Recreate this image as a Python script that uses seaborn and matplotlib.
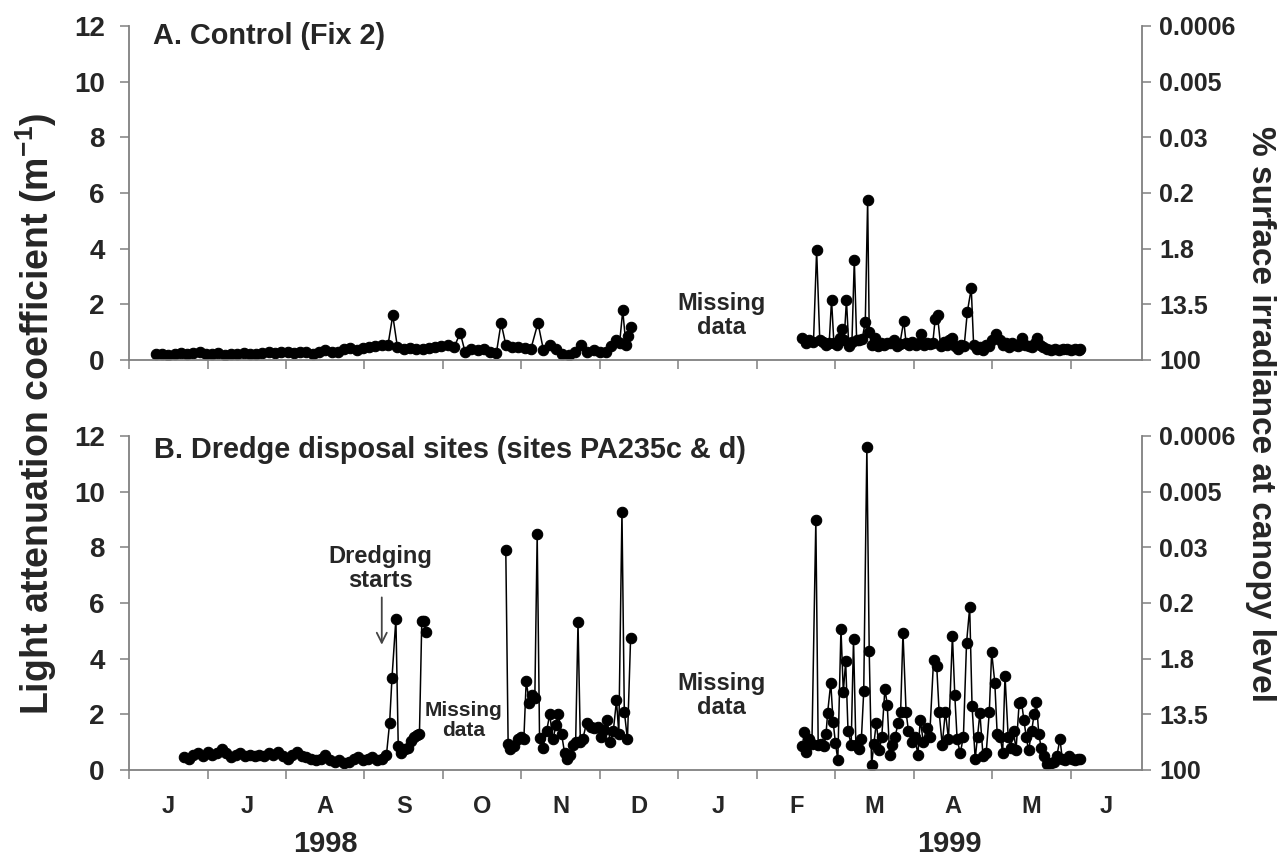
import matplotlib
matplotlib.use('Agg')
import matplotlib.pyplot as plt
import matplotlib.transforms as mtransforms
import seaborn as sns

# x is measured in months from 1 June 1998 (0 = start of June 1998)
MONTH_TICKS = [0, 1, 2, 3, 4, 5, 6, 7, 8, 9, 10, 11, 12]
MONTH_LABEL_POS = [0.5, 1.5, 2.5, 3.5, 4.5, 5.5, 6.5, 7.5, 8.5, 9.5, 10.5, 11.5, 12.45]
MONTH_LABELS = ['J', 'J', 'A', 'S', 'O', 'N', 'D', 'J', 'F', 'M', 'A', 'M', 'J']
YEAR_POS = [2.5, 10.45]
YEAR_LABELS = ['1998', '1999']
KD_TICKS = [0, 2, 4, 6, 8, 10, 12]
IRRADIANCE_LABELS = ['100', '13.5', '1.8', '0.2', '0.03', '0.005', '0.0006']

# A. Control (Fix 2), (month, Kd)
control_1998 = [
    (0.34, 0.20), (0.42, 0.22), (0.50, 0.18), (0.58, 0.22), (0.66, 0.25), (0.74, 0.20),
    (0.82, 0.24), (0.90, 0.28), (0.98, 0.22), (1.06, 0.20), (1.14, 0.25), (1.22, 0.18),
    (1.30, 0.22), (1.38, 0.20), (1.46, 0.24), (1.54, 0.22), (1.62, 0.20), (1.70, 0.26),
    (1.78, 0.28), (1.86, 0.25), (1.94, 0.30), (2.02, 0.28), (2.10, 0.24), (2.18, 0.30),
    (2.26, 0.27), (2.34, 0.22), (2.42, 0.28), (2.50, 0.34), (2.58, 0.30), (2.66, 0.27),
    (2.74, 0.38), (2.82, 0.42), (2.90, 0.36), (2.98, 0.42), (3.06, 0.45), (3.14, 0.50),
    (3.22, 0.52), (3.30, 0.55), (3.36, 1.60), (3.42, 0.45), (3.50, 0.38), (3.58, 0.42),
    (3.66, 0.40), (3.74, 0.38), (3.82, 0.42), (3.90, 0.45), (3.98, 0.50), (4.06, 0.52),
    (4.14, 0.45), (4.22, 0.97), (4.28, 0.30), (4.36, 0.38), (4.44, 0.35), (4.52, 0.40),
    (4.60, 0.30), (4.68, 0.25), (4.74, 1.33), (4.80, 0.55), (4.88, 0.48), (4.96, 0.45),
    (5.04, 0.42), (5.12, 0.40), (5.21, 1.33), (5.28, 0.35), (5.36, 0.55), (5.44, 0.40),
    (5.52, 0.22), (5.60, 0.18), (5.68, 0.30), (5.76, 0.55), (5.84, 0.30), (5.92, 0.35),
    (6.00, 0.30), (6.08, 0.28), (6.14, 0.50), (6.20, 0.70), (6.25, 0.60), (6.29, 1.78),
    (6.33, 0.55), (6.36, 0.85), (6.39, 1.19),
]
control_1999 = [
    (8.58, 0.78), (8.62, 0.60), (8.66, 0.70), (8.72, 0.65), (8.76, 3.94), (8.80, 0.72),
    (8.84, 0.65), (8.88, 0.55), (8.92, 0.60), (8.95, 2.17), (8.98, 0.60), (9.02, 0.55),
    (9.06, 0.80), (9.08, 1.13), (9.11, 0.70), (9.14, 2.15), (9.17, 0.50), (9.21, 0.65),
    (9.24, 3.60), (9.27, 0.70), (9.30, 0.72), (9.34, 0.75), (9.38, 1.37), (9.41, 5.75),
    (9.43, 1.00), (9.46, 0.55), (9.50, 0.80), (9.54, 0.50), (9.58, 0.60), (9.62, 0.55),
    (9.66, 0.62), (9.70, 0.60), (9.74, 0.70), (9.78, 0.50), (9.82, 0.58), (9.87, 1.40),
    (9.90, 0.60), (9.94, 0.55), (9.98, 0.65), (10.02, 0.55), (10.06, 0.62), (10.09, 0.95),
    (10.13, 0.55), (10.17, 0.60), (10.21, 0.58), (10.24, 0.62), (10.27, 1.46), (10.30, 1.60),
    (10.34, 0.50), (10.38, 0.65), (10.42, 0.55), (10.45, 0.70), (10.48, 0.80), (10.52, 0.50),
    (10.56, 0.40), (10.60, 0.55), (10.64, 0.50), (10.68, 1.73), (10.73, 2.57), (10.76, 0.55),
    (10.80, 0.40), (10.84, 0.45), (10.88, 0.35), (10.92, 0.55), (10.96, 0.50), (11.00, 0.70),
    (11.05, 0.95), (11.09, 0.70), (11.13, 0.55), (11.17, 0.60), (11.21, 0.45), (11.25, 0.62),
    (11.29, 0.55), (11.33, 0.50), (11.38, 0.80), (11.42, 0.55), (11.46, 0.50), (11.50, 0.45),
    (11.54, 0.62), (11.57, 0.80), (11.61, 0.55), (11.65, 0.45), (11.70, 0.40), (11.75, 0.35),
    (11.80, 0.38), (11.85, 0.35), (11.90, 0.40), (11.95, 0.38), (12.00, 0.35), (12.05, 0.38),
    (12.10, 0.35), (12.12, 0.38),
]

# B. Dredge disposal sites (PA235c & d)
dredge_summer_1998 = [
    (0.70, 0.45), (0.76, 0.40), (0.82, 0.55), (0.88, 0.60), (0.94, 0.50), (1.00, 0.65),
    (1.06, 0.55), (1.12, 0.60), (1.18, 0.75), (1.24, 0.60), (1.30, 0.45), (1.36, 0.55),
    (1.42, 0.60), (1.48, 0.50), (1.54, 0.55), (1.60, 0.50), (1.66, 0.55), (1.72, 0.50),
    (1.78, 0.60), (1.84, 0.55), (1.90, 0.65), (1.96, 0.50), (2.02, 0.40), (2.08, 0.55),
    (2.14, 0.65), (2.20, 0.50), (2.26, 0.45), (2.32, 0.40), (2.38, 0.35), (2.44, 0.40),
    (2.50, 0.55), (2.56, 0.35), (2.62, 0.30), (2.68, 0.35), (2.74, 0.25), (2.80, 0.30),
    (2.86, 0.40), (2.92, 0.45), (2.98, 0.35), (3.04, 0.40), (3.10, 0.45), (3.16, 0.35),
    (3.22, 0.40), (3.28, 0.55), (3.32, 1.69), (3.35, 3.30), (3.40, 5.43), (3.43, 0.85),
    (3.47, 0.60), (3.51, 0.75), (3.55, 0.80), (3.59, 1.05), (3.63, 1.20), (3.67, 1.25),
    (3.70, 1.30), (3.73, 5.37), (3.76, 5.37), (3.78, 4.95),
]
dredge_autumn_1998 = [
    (4.80, 7.91), (4.83, 0.92), (4.85, 0.75), (4.90, 0.85), (4.95, 1.10), (5.00, 1.20),
    (5.03, 1.10), (5.06, 3.20), (5.10, 2.40), (5.14, 2.70), (5.17, 2.60), (5.20, 8.47),
    (5.23, 1.15), (5.27, 0.80), (5.32, 1.40), (5.36, 2.00), (5.40, 1.10), (5.44, 1.60),
    (5.47, 2.00), (5.51, 1.30), (5.55, 0.60), (5.58, 0.40), (5.62, 0.55), (5.66, 0.90),
    (5.69, 1.00), (5.72, 5.31), (5.75, 1.00), (5.78, 1.10), (5.83, 1.70), (5.88, 1.55),
    (5.93, 1.50), (5.97, 1.55), (6.01, 1.20), (6.05, 1.45), (6.09, 1.80), (6.13, 1.00),
    (6.17, 1.40), (6.21, 2.50), (6.24, 1.30), (6.28, 9.28), (6.31, 2.10), (6.35, 1.10),
    (6.39, 4.74),
]
dredge_1999 = [
    (8.58, 0.85), (8.60, 1.35), (8.63, 0.65), (8.66, 1.10), (8.70, 0.95), (8.75, 8.98),
    (8.78, 0.90), (8.82, 0.95), (8.85, 0.85), (8.88, 1.30), (8.90, 2.05), (8.94, 3.13),
    (8.97, 1.74), (9.00, 0.96), (9.03, 0.36), (9.07, 5.08), (9.10, 2.80), (9.13, 3.90),
    (9.16, 1.40), (9.20, 0.90), (9.23, 4.71), (9.26, 0.90), (9.30, 0.75), (9.33, 1.10),
    (9.36, 2.82), (9.40, 11.60), (9.43, 4.26), (9.46, 0.18), (9.49, 0.95), (9.52, 1.70),
    (9.56, 0.70), (9.59, 1.20), (9.63, 2.92), (9.66, 2.34), (9.69, 0.55), (9.72, 0.90),
    (9.76, 1.20), (9.80, 1.70), (9.83, 2.07), (9.86, 4.93), (9.90, 2.07), (9.93, 1.40),
    (9.97, 1.00), (10.01, 1.20), (10.05, 0.55), (10.08, 1.80), (10.12, 1.00), (10.16, 1.50),
    (10.20, 1.20), (10.25, 3.96), (10.29, 3.72), (10.32, 2.10), (10.36, 0.90), (10.40, 2.10),
    (10.44, 1.10), (10.49, 4.83), (10.52, 2.70), (10.55, 1.10), (10.59, 0.60), (10.63, 1.20),
    (10.67, 4.57), (10.71, 5.84), (10.74, 2.31), (10.78, 0.40), (10.81, 1.20), (10.84, 2.05),
    (10.88, 0.50), (10.92, 0.60), (10.96, 2.10), (10.99, 4.23), (11.03, 3.14), (11.06, 1.30),
    (11.10, 1.20), (11.13, 0.60), (11.16, 3.39), (11.20, 1.20), (11.23, 0.80), (11.27, 1.40),
    (11.30, 0.70), (11.34, 2.40), (11.37, 2.46), (11.40, 1.80), (11.43, 1.20), (11.46, 0.70),
    (11.50, 1.40), (11.53, 2.00), (11.56, 2.43), (11.59, 1.30), (11.62, 0.80), (11.66, 0.50),
    (11.70, 0.20), (11.74, 0.25), (11.78, 0.30), (11.82, 0.50), (11.86, 1.11), (11.89, 0.40),
    (11.93, 0.35), (11.97, 0.50), (12.01, 0.40), (12.05, 0.35), (12.09, 0.40), (12.12, 0.38),
]

SPINE_GRAY = '#808080'

sns.set_style('ticks')
plt.rcParams['font.family'] = ['Liberation Sans', 'DejaVu Sans']
plt.rcParams['mathtext.fontset'] = 'custom'
plt.rcParams['mathtext.rm'] = 'Liberation Sans'
plt.rcParams['mathtext.bf'] = 'Liberation Sans:bold'


def draw_series(ax, pairs):
    xs = [p[0] for p in pairs]
    ys = [p[1] for p in pairs]
    sns.lineplot(x=xs, y=ys, ax=ax, color='black', linewidth=1.1, marker='o',
                 markersize=7.5, markeredgecolor='black', markeredgewidth=0.8,
                 estimator=None, sort=False, legend=False)


def style_panel(ax, show_months):
    ax.set_xlim(0, 12.9)
    ax.set_ylim(0, 12)
    ax.set_xticks(MONTH_TICKS)
    ax.set_xticklabels([])
    ax.set_yticks(KD_TICKS)
    ax.set_yticklabels([str(t) for t in KD_TICKS], fontsize=20, fontweight='bold')
    ax.set_xlabel('')
    ax.set_ylabel('')
    for side in ['top', 'right']:
        ax.spines[side].set_visible(False)
    for side in ['left', 'bottom']:
        ax.spines[side].set_color(SPINE_GRAY)
        ax.spines[side].set_linewidth(1.3)
    ax.tick_params(axis='both', which='major', direction='out', length=6.5, width=1.1,
                   color=SPINE_GRAY)
    ax.tick_params(axis='y', pad=11)
    if show_months:
        ax.set_xticks(MONTH_LABEL_POS, minor=True)
        ax.set_xticklabels(MONTH_LABELS, minor=True, fontsize=17, fontweight='bold')
        ax.tick_params(axis='x', which='minor', length=0, pad=18)

    # right-hand axis: % surface irradiance at canopy level
    ax2 = ax.twinx()
    ax2.set_ylim(0, 12)
    ax2.set_yticks(KD_TICKS)
    ax2.set_yticklabels(IRRADIANCE_LABELS, fontsize=18, fontweight='bold')
    for side in ['top', 'left', 'bottom']:
        ax2.spines[side].set_visible(False)
    ax2.spines['right'].set_color(SPINE_GRAY)
    ax2.spines['right'].set_linewidth(1.3)
    ax2.tick_params(axis='y', direction='out', length=6.5, width=1.1, color=SPINE_GRAY, pad=6)
    return ax2


fig = plt.figure(figsize=(12.85, 8.63), dpi=100)
ax_a = fig.add_axes([0.1004, 0.5829, 0.7880, 0.3870])
ax_b = fig.add_axes([0.1004, 0.1078, 0.7880, 0.3870])

draw_series(ax_a, control_1998)
draw_series(ax_a, control_1999)
draw_series(ax_b, dredge_summer_1998)
draw_series(ax_b, dredge_autumn_1998)
draw_series(ax_b, dredge_1999)

style_panel(ax_a, show_months=False)
style_panel(ax_b, show_months=True)

# panel titles and annotations
ax_a.text(0.30, 11.65, 'A. Control (Fix 2)', fontsize=20.8, fontweight='bold', ha='left', va='center')
ax_b.text(0.32, 11.5, 'B. Dredge disposal sites (sites PA235c & d)', fontsize=20.8,
          fontweight='bold', ha='left', va='center')
ax_a.text(7.55, 1.6, 'Missing\ndata', fontsize=17, fontweight='bold', ha='center', va='center',
          linespacing=1.05)
ax_b.text(4.26, 1.77, 'Missing\ndata', fontsize=15, fontweight='bold', ha='center', va='center',
          linespacing=1.05)
ax_b.text(7.55, 2.67, 'Missing\ndata', fontsize=17, fontweight='bold', ha='center', va='center',
          linespacing=1.05)
ax_b.text(3.2, 7.25, 'Dredging\nstarts', fontsize=17, fontweight='bold', ha='center', va='center',
          linespacing=1.05)
ax_b.annotate('', xy=(3.22, 4.4), xytext=(3.22, 6.3),
              arrowprops=dict(arrowstyle='->', color='#444444', lw=1.3, mutation_scale=18))

# year labels under the month labels
year_tr = mtransforms.blended_transform_factory(ax_b.transData, fig.transFigure)
for pos, label in zip(YEAR_POS, YEAR_LABELS):
    ax_b.text(pos, 0.022, label, transform=year_tr, fontsize=21, fontweight='bold',
              ha='center', va='center')

fig.text(0.028, 0.52, r'Light attenuation coefficient (m$^{\mathbf{-1}}$)', rotation=90,
         fontsize=27, fontweight='bold', ha='center', va='center')
fig.text(0.981, 0.52, '% surface irradiance at canopy level', rotation=270,
         fontsize=24, fontweight='bold', ha='center', va='center')

fig.savefig('out.png', dpi=100)
